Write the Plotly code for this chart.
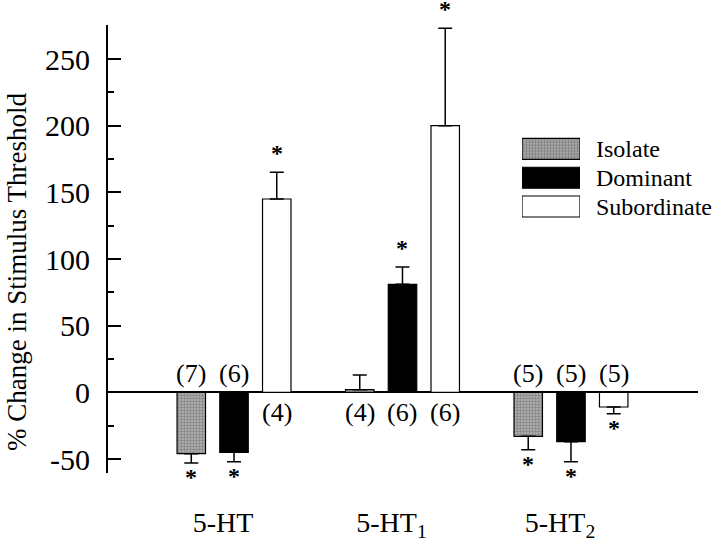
import plotly.graph_objects as go

# ---- data ----
groups = ["5-HT", "5-HT<sub>1</sub>", "5-HT<sub>2</sub>"]
series_names = ["Isolate", "Dominant", "Subordinate"]
isolate = [-46, 2, -33]
dominant = [-45, 81, -37]
subordinate = [145, 200, -11]
isolate_err = [7, 11, 10]
dominant_err = [7, 13, 15]
subordinate_err = [20, 73, 5]
isolate_n = [7, 4, 5]
dominant_n = [6, 6, 5]
subordinate_n = [4, 6, 5]
isolate_sig = [True, False, True]
dominant_sig = [True, True, True]
subordinate_sig = [True, True, True]
y_tickvals = [-50, 0, 50, 100, 150, 200, 250]
y_ticktext = ["-50", "0", "50", "100", "150", "200", "250"]
y_title = "% Change in Stimulus Threshold"

# ---- style ----
FONT = "Liberation Serif"
BARGAP = 0.239
BARGROUPGAP = 0.334
styles = [
    dict(color="#b4b4b4", pattern=dict(shape=".", fgcolor="#555555", size=3, solidity=0.5, fillmode="overlay")),
    dict(color="black"),
    dict(color="white"),
]

values = [isolate, dominant, subordinate]
errs = [isolate_err, dominant_err, subordinate_err]
counts = [isolate_n, dominant_n, subordinate_n]
sigs = [isolate_sig, dominant_sig, subordinate_sig]

fig = go.Figure()
for j, name in enumerate(series_names):
    v = values[j]
    e = errs[j]
    plus = [ee if vv >= 0 else 0 for vv, ee in zip(v, e)]
    minus = [ee if vv < 0 else 0 for vv, ee in zip(v, e)]
    marker = dict(line=dict(color="black", width=1.2))
    marker.update(styles[j])
    fig.add_trace(go.Bar(
        x=groups, y=v, name=name, marker=marker, showlegend=False,
        error_y=dict(type="data", symmetric=False, array=plus, arrayminus=minus,
                     color="black", thickness=1.5, width=7),
        xaxis="x", yaxis="y",
    ))

# annotations: counts and significance stars
slot = (1 - BARGAP) / len(series_names)
annotations = []
for j in range(len(series_names)):
    for i in range(len(groups)):
        xpos = i + (j - (len(series_names) - 1) / 2) * slot
        v = values[j][i]
        e = errs[j][i]
        annotations.append(dict(
            x=xpos, y=0, xref="x", yref="y", text="(%d)" % counts[j][i], showarrow=False,
            yanchor="middle", yshift=(19 if v < 0 else -20),
            font=dict(family=FONT, size=26, color="black")))
        if sigs[j][i]:
            end = v + e if v >= 0 else v - e
            annotations.append(dict(
                x=xpos, y=end, xref="x", yref="y", text="<b>*</b>", showarrow=False,
                yanchor="middle", yshift=(19 if v >= 0 else -14),
                font=dict(family=FONT, size=24, color="black")))

# y-axis title (placed slightly below the axis centre, as in the reference)
annotations.append(dict(
    x=-0.154, y=0.449, xref="paper", yref="paper", text=y_title, textangle=-90,
    showarrow=False, xanchor="center", yanchor="middle",
    font=dict(family=FONT, size=27, color="black")))

# legend drawn as bars on a small inset axis
fig.add_trace(go.Bar(
    y=series_names, x=[1, 1, 1], orientation="h", width=0.73, showlegend=False,
    marker=dict(color=[s["color"] for s in styles],
                pattern=dict(shape=[".", "", ""], fgcolor="#555555", size=3, solidity=0.5,
                             fillmode="overlay"),
                line=dict(color="black", width=1.2)),
    xaxis="x2", yaxis="y2", hoverinfo="skip",
))

fig.update_layout(
    width=720, height=552,
    margin=dict(l=108, r=22, t=25, b=79),
    paper_bgcolor="white", plot_bgcolor="white",
    barmode="group", bargap=BARGAP, bargroupgap=BARGROUPGAP,
    font=dict(family=FONT, color="black"),
    annotations=annotations,
    xaxis=dict(type="category", range=[-0.748, 2.754], showline=False, ticks="",
               showgrid=False, zeroline=False, automargin=False,
               tickfont=dict(family=FONT, size=28, color="black"),
               ticklabelstandoff=30, ticklabelshift=-11),
    yaxis=dict(range=[-60.5, 275.5], tickmode="array", tickvals=y_tickvals, ticktext=y_ticktext,
               showline=True, linecolor="black", linewidth=2, automargin=False,
               ticks="inside", ticklen=13, tickwidth=1.5, tickcolor="black",
               minor=dict(dtick=25, tick0=0, ticks="inside", ticklen=6, tickwidth=1.5, tickcolor="black"),
               showgrid=False, zeroline=True, zerolinecolor="black", zerolinewidth=1.5,
               tickfont=dict(family=FONT, size=30, color="black"),
               ticklabelstandoff=10),
    xaxis2=dict(domain=[0.7017, 0.8], range=[0, 1], visible=False, anchor="y2", fixedrange=True),
    yaxis2=dict(domain=[0.5627, 0.7554], anchor="x2", side="right", autorange="reversed",
                type="category", tickmode="array", tickvals=series_names, ticktext=series_names,
                showline=False, ticks="", showgrid=False, zeroline=False,
                automargin=False,
                tickfont=dict(family=FONT, size=24, color="black"),
                ticklabelstandoff=15),
)

fig.write_html("out.html", config={"displayModeBar": False},
               post_script="document.body.style.margin='0';")
